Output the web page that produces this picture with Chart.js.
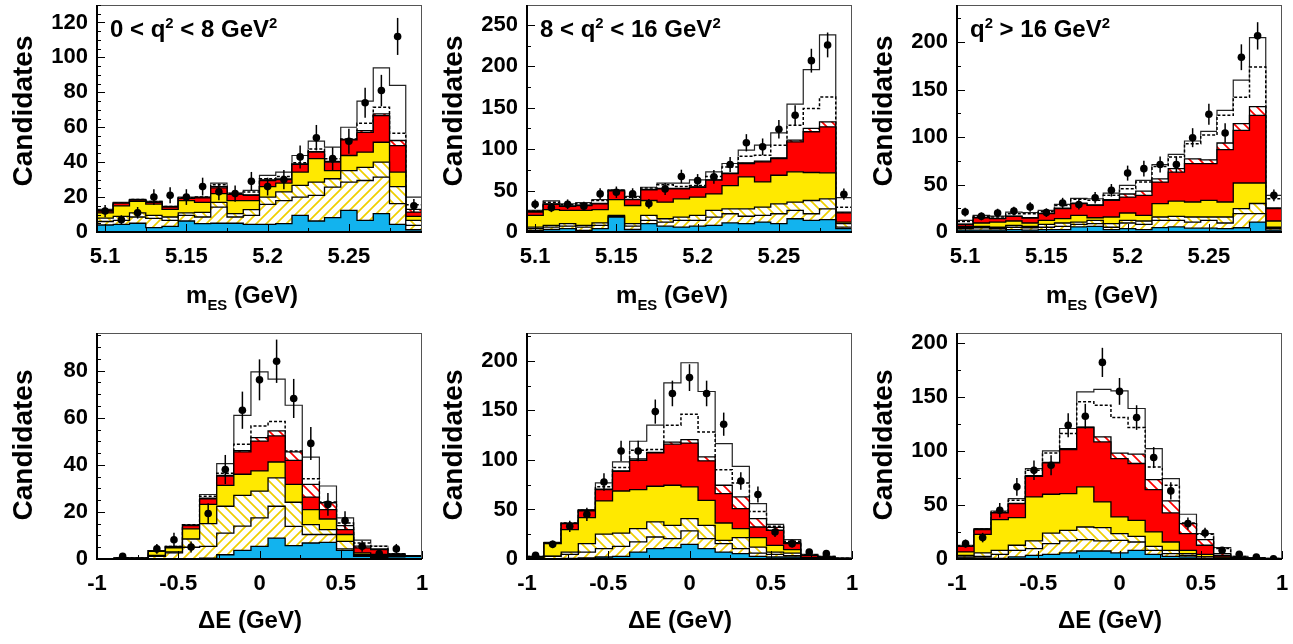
<!DOCTYPE html>
<html>
<head>
<meta charset="utf-8">
<script src="https://cdn.jsdelivr.net/npm/chart.js@4.4.1/dist/chart.umd.min.js"></script>
<style>
  body { margin: 0; background: #fff; }
  #page { position: relative; width: 1293px; height: 644px; overflow: hidden;
          font-family: "Liberation Sans", Arial, sans-serif; font-weight: bold; color: #000; }
  .box { position: absolute; width: 430px; height: 322px; }
  .txt { position: absolute; white-space: nowrap; line-height: 1; }
  .ytitle { position: absolute; width: 180px; height: 28px; font-size: 28px; line-height: 28px;
            text-align: center; transform: rotate(-90deg); white-space: nowrap; }
  .xtitle { position: absolute; width: 300px; font-size: 24px; line-height: 24px; text-align: center; white-space: nowrap; }
  sub { font-size: 0.62em; vertical-align: -0.45em; line-height: 0; }
  sup { font-size: 0.62em; vertical-align: 0.62em; line-height: 0; }
</style>
</head>
<body>
<div id="page">
  <div class="box" style="left:0;top:0"><canvas id="m1"></canvas></div>
  <div class="box" style="left:430px;top:0"><canvas id="m2"></canvas></div>
  <div class="box" style="left:860px;top:0"><canvas id="m3"></canvas></div>
  <div class="box" style="left:0;top:322px"><canvas id="d1"></canvas></div>
  <div class="box" style="left:430px;top:322px"><canvas id="d2"></canvas></div>
  <div class="box" style="left:860px;top:322px"><canvas id="d3"></canvas></div>

  <div class="ytitle" style="left:-67px;top:97px">Candidates</div>
  <div class="ytitle" style="left:363px;top:97px">Candidates</div>
  <div class="ytitle" style="left:793px;top:97px">Candidates</div>
  <div class="ytitle" style="left:-67px;top:431px">Candidates</div>
  <div class="ytitle" style="left:363px;top:431px">Candidates</div>
  <div class="ytitle" style="left:793px;top:431px">Candidates</div>

  <div class="xtitle" style="left:92px;top:283px">m<sub>ES</sub> (GeV)</div>
  <div class="xtitle" style="left:522px;top:283px">m<sub>ES</sub> (GeV)</div>
  <div class="xtitle" style="left:952px;top:283px">m<sub>ES</sub> (GeV)</div>
  <div class="xtitle" style="left:100px;top:608px">&Delta;E (GeV)</div>
  <div class="xtitle" style="left:530px;top:608px">&Delta;E (GeV)</div>
  <div class="xtitle" style="left:960px;top:608px">&Delta;E (GeV)</div>

  <div class="txt" style="left:110px;top:17px;font-size:24px">0 &lt; q<sup>2</sup> &lt; 8 GeV<sup>2</sup></div>
  <div class="txt" style="left:540px;top:17px;font-size:24px">8 &lt; q<sup>2</sup> &lt; 16 GeV<sup>2</sup></div>
  <div class="txt" style="left:970px;top:17px;font-size:24px">q<sup>2</sup> &gt; 16 GeV<sup>2</sup></div>
</div>

<script>
// ---- axes ----
const mesRange = [5.095, 5.295];
const deRange = [-1, 1];
const mesTicks = [5.1, 5.15, 5.2, 5.25];
const deTicks = [-1, -0.5, 0, 0.5, 1];
const m1YTicks = [0, 20, 40, 60, 80, 100, 120];
const m2YTicks = [0, 50, 100, 150, 200, 250];
const m3YTicks = [0, 50, 100, 150, 200];
const d1YTicks = [0, 20, 40, 60, 80];
const d2YTicks = [0, 50, 100, 150, 200];
const d3YTicks = [0, 50, 100, 150, 200];

// ---- mES, 0 < q2 < 8 (cumulative levels, 20 bins) ----
const m1Data = [12, 7, 11, 20, 21, 20, 26, 23, 22, 29, 26, 30, 43, 54, 42, 52, 74, 81, 112, 15];
const m1Err = [3.5, 2.6, 3.3, 4.5, 4.6, 4.5, 5.1, 4.8, 4.7, 5.4, 5.1, 5.5, 6.6, 7.3, 6.5, 7.2, 8.6, 9, 10.6, 3.9];
const m1Blue = [4, 4.4, 5, 2.5, 3.2, 6.3, 4.8, 5, 5, 4.4, 4.4, 4.8, 9.5, 6.3, 8.2, 12.4, 6.7, 10.5, 4.4, 1.3];
const m1HatchA = [6, 6.7, 8.6, 7.8, 6.7, 9.5, 8.6, 14.3, 8.6, 9.5, 15.8, 18, 20, 21, 25.7, 28.6, 29.5, 31.4, 16.2, 3.8];
const m1HatchB = [8, 9, 11, 9.5, 8.6, 11, 11.2, 17, 10.5, 12.8, 20, 23, 26.7, 28.6, 30.5, 35.2, 37, 40, 26, 6.7];
const m1Yellow = [11, 15, 17.5, 16, 13, 18, 17, 22, 18, 18, 26, 28, 34.3, 42, 35.2, 43.8, 45.7, 51.4, 34.3, 9];
const m1Red = [12, 16.5, 18.3, 17, 14.3, 19.2, 19.6, 25.3, 21.5, 21, 29.5, 30, 38.7, 45.7, 40, 52.8, 57, 66.7, 49.5, 11.4];
const m1RedHatch = [12.2, 16.7, 18.5, 17.2, 14.5, 19.4, 19.8, 26, 21.7, 21.3, 29.8, 30.4, 39, 46, 40.5, 53, 58, 67.6, 52.4, 13];
const m1Dotted = [12.5, 16.8, 18.6, 17.4, 14.6, 19.6, 20, 27, 22, 22.9, 30.5, 31.8, 39.6, 47.6, 42, 53.3, 62.3, 71.4, 56.6, 15.6];
const m1Total = [13, 17, 18.7, 17.5, 14.7, 20, 20, 28, 22.3, 23.8, 32.4, 34.3, 43.8, 52, 48.6, 60, 75, 94, 84, 20];

// ---- mES, 8 < q2 < 16 ----
const m2Data = [33.5, 29.4, 33.5, 31, 46, 48, 46, 34, 52, 67, 62, 66.5, 81.5, 107.7, 102.8, 124, 141, 206.8, 225.8, 45.6];
const m2Err = [5.8, 5.4, 5.8, 5.6, 6.8, 6.9, 6.8, 5.8, 7.2, 8.2, 7.9, 8.2, 9, 10.4, 10.1, 11.1, 11.9, 14.4, 15, 6.8];
const m2Blue = [2, 3, 4, 2, 4, 18, 3, 10, 7, 6, 7, 8, 11, 10, 12, 10, 16, 14, 15, 4];
const m2HatchA = [4, 6, 7, 6, 8, 19, 7, 14, 12, 14, 14, 18, 22, 19, 20, 22, 26, 22, 28, 6];
const m2HatchB = [6, 8, 10, 8, 11, 20, 10, 20, 16, 18, 20, 26, 28, 28, 30, 34, 36, 38, 40, 10];
const m2Yellow = [20, 27, 26, 26, 27, 39, 32, 38, 36, 40, 42, 46, 56, 66.5, 60.5, 68.5, 72.6, 71.8, 71.4, 12];
const m2Red = [24, 33.5, 31, 32, 34, 49.6, 39, 51, 52, 52, 54, 62.5, 70.5, 82.7, 84.7, 88.7, 108.9, 121, 127, 23];
const m2RedHatch = [24.5, 34, 31.5, 32.5, 34.5, 50, 39.5, 51.5, 52.5, 52.5, 54.5, 63, 71, 83.5, 85.5, 89.5, 111, 125, 133, 24];
const m2Dotted = [25, 36, 33, 34, 38, 50.5, 42, 53, 57, 55, 56, 67, 78.6, 91.5, 92.7, 104.8, 129, 149, 163, 30];
const m2Total = [26, 37.5, 34, 35.5, 39, 51, 43, 54, 59, 59, 63, 72.6, 82.7, 98.8, 104.8, 119.7, 154.4, 196, 238, 41.5];

// ---- mES, q2 > 16 ----
const m3Data = [21, 16.5, 20, 22, 26.3, 20.4, 30.5, 29, 36, 43.9, 62, 66.7, 71, 71, 99.3, 123.9, 104.2, 184, 206.5, 38.6];
const m3Err = [4.6, 4.1, 4.5, 4.7, 5.1, 4.5, 5.5, 5.4, 6, 6.6, 7.9, 8.2, 8.4, 8.4, 10, 11.1, 10.2, 13.6, 14.4, 6.2];
const m3Blue = [2, 2, 2, 2.5, 2, 2.5, 2.5, 5.3, 6, 2.5, 3.5, 2.5, 4.6, 5.3, 4, 4, 3.5, 4.5, 10.5, 2];
const m3HatchA = [3.5, 4.5, 3.5, 5, 4.5, 5, 6, 8, 8.8, 5, 9.5, 8, 12.3, 12.3, 10.5, 12.3, 9.5, 19.3, 19.3, 3.5];
const m3HatchB = [5, 6, 5, 7, 6, 8, 9.5, 10.5, 12.3, 8.8, 12.3, 11.6, 15.8, 16.5, 15.8, 15.8, 15.8, 24.6, 30, 5];
const m3Yellow = [6, 9.5, 10.5, 11.6, 9.5, 12.3, 14, 17.5, 15, 15.8, 20, 17.5, 29.8, 32.6, 31.6, 33.3, 31.6, 51.6, 51.6, 11.6];
const m3Red = [8, 15, 14, 16.5, 14.7, 19.3, 24.6, 29.8, 28, 33.3, 36.8, 38.6, 52.6, 63, 72, 72, 86.7, 107, 122.8, 24.6];
const m3RedHatch = [8.2, 15.3, 14.3, 16.8, 15, 19.6, 25, 30.3, 28.5, 34, 40, 43, 56, 66.7, 77, 76, 93.7, 114, 132, 25.5];
const m3Dotted = [11, 16.5, 15.8, 19.3, 19.3, 21.4, 28, 34.4, 33.3, 38.6, 45.6, 52.6, 69, 79, 93, 102, 122.8, 142, 173.7, 35];
const m3Total = [12.3, 17.5, 16.8, 21, 20.4, 22.8, 29, 35.4, 35, 41, 49, 54.4, 70.9, 81.8, 95.8, 106, 128, 160, 204.6, 38.6];

// ---- Delta E, 0 < q2 < 8 (19 bins) ----
const d1Data = [null, 1.1, null, 4.3, 8.2, 5.1, 19.3, 38, 63.2, 76.1, 84, 68.2, 49.1, 23.2, 16.3, 5.4, 2.3, 4.3, null];
const d1Err = [null, 1, null, 2.1, 2.9, 2.3, 4.4, 6.2, 7.9, 8.7, 9.2, 8.3, 7, 4.8, 4, 2.3, 1.5, 2.1, null];
const d1Blue = [0, 0, 0, 0, 0, 0, 0.4, 1.8, 3.7, 5.4, 8.9, 5.7, 6.8, 7.1, 3.7, 1.1, 0.7, 0.9, 1.1];
const d1HatchA = [0, 0, 0, 1.1, 2.6, 5, 5.4, 11, 14, 17.5, 22.4, 13.9, 10.4, 10.4, 4.3, 1.5, 1, 1, 1.2];
const d1HatchB = [0, 0, 0.2, 1.5, 3, 8.5, 15, 22.4, 27, 28.8, 34.5, 24.1, 14.6, 12.5, 7.5, 2, 1.5, 1.2, 1.3];
const d1Yellow = [0, 0.3, 0.3, 3.3, 4.7, 12.8, 23.2, 31.3, 36, 37.4, 41.2, 31.7, 21, 17, 10.4, 2.6, 2, 1.5, 1.3];
const d1Red = [0, 0.4, 0.4, 3.4, 5, 14.2, 25.6, 35.2, 45.5, 50.1, 52.3, 41.9, 26.3, 21, 12.5, 4.7, 4, 2, 1.4];
const d1RedHatch = [0, 0.4, 0.4, 3.4, 5.2, 14.3, 25.8, 35.5, 46, 51.6, 54.4, 45.5, 31.7, 23.9, 14.2, 5.5, 4.3, 2.1, 1.4];
const d1Dotted = [0, 0.5, 0.4, 3.5, 5.3, 14.5, 26.7, 36.4, 48.7, 56.5, 58.4, 45.9, 34.1, 24.2, 15.3, 6.8, 5.4, 2.2, 1.4];
const d1Total = [0, 0.5, 0.4, 3.5, 5.4, 14.6, 27.4, 40.5, 61, 79.5, 76.4, 65.3, 43.3, 31, 17.5, 8, 5.4, 2.3, 1.4];

// ---- Delta E, 8 < q2 < 16 ----
const d2Data = [3.7, 14.8, 33, 45, 77.7, 109, 109, 148.7, 167, 183, 167, 136, 78.7, 65, 27.3, 15.5, 7, 5.4, null];
const d2Err = [1.9, 3.8, 5.7, 6.7, 8.8, 10.4, 10.4, 12.2, 12.9, 13.5, 12.9, 11.7, 8.9, 8.1, 5.2, 3.9, 2.6, 2.3, null];
const d2Blue = [0, 0.3, 0.7, 1, 2, 2.7, 7, 10.4, 11.4, 14.8, 10.4, 7, 5.4, 2.7, 2, 2, 0.7, 0.7, 0.3];
const d2HatchA = [0.5, 2.7, 4.7, 7, 10.4, 12.8, 17.2, 22.2, 20.5, 28.3, 20.5, 15.5, 10.4, 6, 4.7, 3.5, 1, 0.8, 0.3];
const d2HatchB = [1, 3, 7, 15.5, 25, 26.2, 30.6, 37.4, 34, 40.7, 34, 18.8, 21.5, 12, 7, 6, 1.3, 1, 0.4];
const d2Yellow = [2, 15.5, 29.6, 41.7, 58.6, 68.6, 70, 73.4, 74.4, 72.7, 59.2, 36.3, 30.6, 21.5, 13.8, 9.4, 1.5, 1.2, 0.5];
const d2Red = [2.3, 16, 35.7, 48.5, 70, 88.5, 99.6, 107, 115.8, 117, 99, 66, 50.8, 32.3, 29, 15.5, 3.7, 1.8, 0.6];
const d2RedHatch = [2.4, 16.2, 36, 48.8, 70.5, 89, 101, 107.5, 118, 120.5, 103, 74.4, 62.6, 40.7, 32, 16.5, 3.9, 2, 0.6];
const d2Dotted = [2.6, 16.5, 36.2, 49.3, 73, 92.2, 109.7, 110.4, 135, 146, 128, 90, 76.7, 48, 33, 18, 4.2, 2.4, 0.7];
const d2Total = [2.7, 16.8, 36.3, 49.8, 76.7, 98, 118.8, 135, 177.7, 198, 169, 116.4, 93.5, 55.9, 35, 19.5, 4.7, 2.7, 0.7];

// ---- Delta E, q2 > 16 ----
const d3Data = [14.2, 19.8, 45, 66.7, 82, 86.7, 123.7, 132, 181.8, 155, 130.8, 93.8, 63, 32.7, 24, 8, 4.3, 1.9, 0.3];
const d3Err = [3.8, 4.4, 6.7, 8.2, 9, 9.3, 11.1, 11.5, 13.5, 12.4, 11.4, 9.7, 7.9, 5.7, 4.9, 2.8, 2.1, 1.4, 0.6];
const d3Blue = [1, 1, 0.6, 1.9, 3.4, 4.3, 5.6, 7.4, 7.4, 5.6, 8, 4.3, 2.5, 1.9, 0.6, 0.3, 0.2, 0.1, 0];
const d3HatchA = [1.9, 2.5, 4.3, 8, 9.6, 14.2, 16.7, 17.9, 16.7, 17.3, 15.7, 8, 4.9, 3.4, 1.9, 0.6, 0.3, 0.2, 0.1];
const d3HatchB = [3.4, 5.6, 8, 12.7, 16.7, 24, 26.5, 29.6, 29, 23.5, 21, 11.7, 8, 4.9, 1.9, 1, 0.4, 0.2, 0.1];
const d3Yellow = [6.5, 22.8, 36.4, 38.3, 57.4, 59.9, 60.5, 66.7, 52.8, 38.9, 35.8, 25, 15.7, 8, 4.3, 1.9, 0.6, 0.3, 0.2];
const d3Red = [11.7, 27.2, 42.6, 51.2, 76.5, 88.9, 101.2, 121.6, 108.3, 92.9, 88.3, 64.2, 42.6, 23.5, 12.7, 3.4, 1.5, 0.6, 0.3];
const d3RedHatch = [11.9, 27.5, 42.9, 51.5, 77, 89.3, 102, 122, 113, 98, 96.9, 73.4, 53.7, 32.7, 17.9, 4.9, 1.8, 0.8, 0.4];
const d3Dotted = [12.3, 27.8, 43.5, 54.3, 82, 98, 116, 145.4, 142.3, 130.8, 121.6, 85, 68.2, 33.3, 22.8, 9.6, 2.2, 1, 0.5];
const d3Total = [12.7, 28, 44.4, 55.9, 83.6, 100, 120.7, 154.6, 156.8, 155.5, 139.2, 102, 74.4, 41.4, 23.5, 10.5, 2.5, 1.2, 0.6];

Chart.defaults.font.family = '"Liberation Sans", Arial, sans-serif';
Chart.defaults.color = '#000';

function hatch(color, dir) {
    const c = document.createElement('canvas');
    c.width = 10; c.height = 10;
    const g = c.getContext('2d');
    g.fillStyle = '#fff';
    g.fillRect(0, 0, 10, 10);
    g.strokeStyle = color;
    g.lineWidth = 1.7;
    g.beginPath();
    if (dir > 0) {
        g.moveTo(-2, 12); g.lineTo(12, -2);
        g.moveTo(-2, 2); g.lineTo(2, -2);
        g.moveTo(8, 12); g.lineTo(12, 8);
    } else {
        g.moveTo(-2, -2); g.lineTo(12, 12);
        g.moveTo(8, -2); g.lineTo(12, 2);
        g.moveTo(-2, 8); g.lineTo(2, 12);
    }
    g.stroke();
    return g.createPattern(c, 'repeat');
}

const BLUE = '#12b3ee';
const YELLOW = '#ffe900';
const RED = '#ff0000';

// bottom-to-top component styles
const styles = [
    {fill: BLUE, color: '#000', width: 1.3},
    {fill: hatch('#efcf00', 1), color: '#000', width: 1.3},
    {fill: hatch('#efcf00', -1), color: '#000', width: 1.3},
    {fill: YELLOW, color: '#000', width: 1.3},
    {fill: RED, color: '#000', width: 1.3},
    {fill: hatch(RED, -1), color: '#000', width: 1.3},
    {fill: '#fff', color: '#000', width: 1.5, dash: [3, 2]},
    {fill: '#fff', color: '#222', width: 1.2}
];

function steps(range, vals) {
    const w = (range[1] - range[0]) / vals.length;
    const pts = vals.map((v, i) => ({x: range[0] + i * w, y: v}));
    pts.push({x: range[1], y: vals[vals.length - 1]});
    return pts;
}

function centers(range, vals, errs) {
    const w = (range[1] - range[0]) / vals.length;
    const pts = [];
    vals.forEach((v, i) => {
        if (v != null) pts.push({x: range[0] + (i + 0.5) * w, y: v, e: errs[i]});
    });
    return pts;
}

const rootFrame = {
    id: 'rootFrame',
    afterDatasetsDraw(chart, args, opts) {
        const {ctx, chartArea: a, scales: {x, y}} = chart;
        // error bars
        const ds = chart.data.datasets[0];
        const meta = chart.getDatasetMeta(0);
        ctx.save();
        ctx.strokeStyle = '#000';
        ctx.lineWidth = 1.5;
        ds.data.forEach((d, i) => {
            const px = meta.data[i].x;
            ctx.beginPath();
            ctx.moveTo(px, y.getPixelForValue(Math.max(0, d.y - d.e)));
            ctx.lineTo(px, y.getPixelForValue(d.y + d.e));
            ctx.stroke();
        });
        // frame
        ctx.strokeStyle = '#555';
        ctx.lineWidth = 1;
        ctx.strokeRect(a.left + 0.5, a.top + 0.5, a.right - a.left - 1, a.bottom - a.top - 1);
        ctx.strokeStyle = '#000';
        ctx.lineWidth = 2;
        ctx.beginPath();
        ctx.moveTo(a.left, a.top);
        ctx.lineTo(a.left, a.bottom);
        ctx.lineTo(a.right, a.bottom);
        ctx.stroke();
        // inward ticks
        ctx.lineWidth = 1;
        ctx.beginPath();
        for (let v = 0; v <= y.max + 1e-9; v += opts.yMinor) {
            const major = opts.yMajor.some(t => Math.abs(t - v) < 1e-6);
            const py = Math.round(y.getPixelForValue(v)) + 0.5;
            ctx.moveTo(a.left, py);
            ctx.lineTo(a.left + (major ? 8 : 4), py);
        }
        const x0 = Math.ceil(x.min / opts.xMinor - 1e-6) * opts.xMinor;
        for (let v = x0; v <= x.max + 1e-9; v += opts.xMinor) {
            const major = opts.xMajor.some(t => Math.abs(t - v) < 1e-6);
            const px = Math.round(x.getPixelForValue(v)) + 0.5;
            ctx.moveTo(px, a.bottom);
            ctx.lineTo(px, a.bottom - (major ? 8 : 4));
        }
        ctx.stroke();
        ctx.restore();
    }
};

function panel(id, cfg) {
    const layers = cfg.layers.map((vals, k) => ({
        data: steps(cfg.range, vals),
        stepped: true,
        fill: 'origin',
        backgroundColor: styles[k].fill,
        borderColor: styles[k].color,
        borderWidth: styles[k].width,
        borderDash: styles[k].dash || [],
        pointRadius: 0
    }));
    const points = {
        data: centers(cfg.range, cfg.data, cfg.err),
        showLine: false,
        pointRadius: 3.8,
        pointBackgroundColor: '#000',
        pointBorderWidth: 0
    };
    return new Chart(document.getElementById(id), {
        type: 'line',
        data: {datasets: [points, ...layers]},
        options: {
            responsive: true,
            maintainAspectRatio: false,
            animation: false,
            layout: {padding: {top: cfg.top, right: 8, left: 0, bottom: 0}},
            plugins: {
                legend: {display: false},
                tooltip: {enabled: false},
                rootFrame: {yMinor: cfg.yMinor, yMajor: cfg.yTicks, xMinor: cfg.xMinor, xMajor: cfg.xTicks}
            },
            scales: {
                x: {
                    type: 'linear',
                    min: cfg.range[0],
                    max: cfg.range[1],
                    grid: {display: false, drawTicks: false},
                    border: {display: false},
                    ticks: {
                        font: {size: 22, weight: 'bold'},
                        color: '#000',
                        padding: 12,
                        maxRotation: 0,
                        autoSkip: false,
                        callback: v => String(v)
                    },
                    afterBuildTicks: s => { s.ticks = cfg.xTicks.map(v => ({value: v})); },
                    afterFit: s => { s.height = cfg.xAxisH; s.paddingLeft = 0; s.paddingRight = 0; }
                },
                y: {
                    min: 0,
                    max: cfg.yMax,
                    grid: {display: false, drawTicks: false},
                    border: {display: false},
                    ticks: {
                        font: {size: 22, weight: 'bold'},
                        color: '#000',
                        padding: 9,
                        autoSkip: false,
                        callback: v => String(v)
                    },
                    afterBuildTicks: s => { s.ticks = cfg.yTicks.map(v => ({value: v})); },
                    afterFit: s => { s.width = 97; s.paddingTop = 0; s.paddingBottom = 0; }
                }
            }
        },
        plugins: [rootFrame]
    });
}

const mesBase = {range: mesRange, xTicks: mesTicks, xMinor: 0.025, top: 5, xAxisH: 90};
const deBase = {range: deRange, xTicks: deTicks, xMinor: 0.25, top: 11, xAxisH: 85};

panel('m1', {...mesBase, yMax: 130, yTicks: m1YTicks, yMinor: 5, data: m1Data, err: m1Err,
    layers: [m1Blue, m1HatchA, m1HatchB, m1Yellow, m1Red, m1RedHatch, m1Dotted, m1Total]});
panel('m2', {...mesBase, yMax: 274, yTicks: m2YTicks, yMinor: 25, data: m2Data, err: m2Err,
    layers: [m2Blue, m2HatchA, m2HatchB, m2Yellow, m2Red, m2RedHatch, m2Dotted, m2Total]});
panel('m3', {...mesBase, yMax: 239, yTicks: m3YTicks, yMinor: 25, data: m3Data, err: m3Err,
    layers: [m3Blue, m3HatchA, m3HatchB, m3Yellow, m3Red, m3RedHatch, m3Dotted, m3Total]});
panel('d1', {...deBase, yMax: 96, yTicks: d1YTicks, yMinor: 5, data: d1Data, err: d1Err,
    layers: [d1Blue, d1HatchA, d1HatchB, d1Yellow, d1Red, d1RedHatch, d1Dotted, d1Total]});
panel('d2', {...deBase, yMax: 228, yTicks: d2YTicks, yMinor: 25, data: d2Data, err: d2Err,
    layers: [d2Blue, d2HatchA, d2HatchB, d2Yellow, d2Red, d2RedHatch, d2Dotted, d2Total]});
panel('d3', {...deBase, yMax: 209, yTicks: d3YTicks, yMinor: 25, data: d3Data, err: d3Err,
    layers: [d3Blue, d3HatchA, d3HatchB, d3Yellow, d3Red, d3RedHatch, d3Dotted, d3Total]});
</script>
</body>
</html>
